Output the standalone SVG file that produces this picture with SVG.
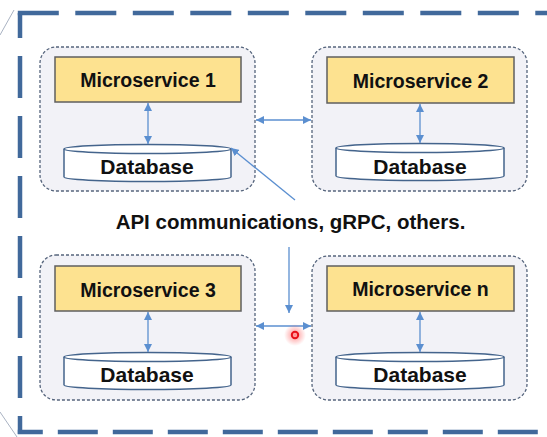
<svg xmlns="http://www.w3.org/2000/svg" width="547" height="437" viewBox="0 0 547 437">
  <style>
    .frame { fill: none; stroke: #41699b; stroke-width: 4.5; stroke-linecap: butt; }
    .edge { fill: none; stroke: #a9b2c2; stroke-width: 1; }
    .svc { fill: #f2f2f7; stroke: #55647c; stroke-width: 1.3; stroke-dasharray: 3 2; }
    .box { fill: #fde290; stroke: #5f5f5f; stroke-width: 1.5; }
    .db { fill: #ffffff; stroke: #44648c; stroke-width: 1.5; }
    .lbl { font-family: "Liberation Sans", Arial, sans-serif; font-weight: bold; fill: #111111; text-anchor: middle; }
    .link { fill: none; stroke: #5b8fd0; stroke-width: 1.3; }
  </style>
  <defs>
    <marker id="head" viewBox="0 0 10 10" refX="10" refY="5" markerWidth="8" markerHeight="8" markerUnits="userSpaceOnUse" orient="auto-start-reverse">
      <path d="M0,0 L10,5 L0,10 Z" fill="#5b8fd0"/>
    </marker>
    <radialGradient id="glow">
      <stop offset="0" stop-color="#ff3030" stop-opacity="0.55"/>
      <stop offset="0.6" stop-color="#ff5050" stop-opacity="0.25"/>
      <stop offset="1" stop-color="#ff6060" stop-opacity="0"/>
    </radialGradient>
  </defs>

  <rect width="547" height="437" fill="#ffffff"/>

  <!-- faint outline strokes at the left corners -->
  <line class="edge" x1="0" y1="35" x2="14" y2="10"/>
  <line class="edge" x1="0" y1="412" x2="17" y2="437"/>

  <!-- outer dashed boundary -->
  <g id="boundary">
    <line class="frame" x1="17.8" y1="13" x2="560" y2="13" stroke-dasharray="41 16.5"/>
    <line class="frame" x1="20" y1="13" x2="20" y2="434" stroke-dasharray="42 18" stroke-dashoffset="17"/>
    <line class="frame" x1="17.8" y1="432" x2="560" y2="432" stroke-dasharray="40 15" stroke-dashoffset="15"/>
  </g>

  <g id="svc1">
    <rect class="svc" x="40" y="47" width="215" height="144" rx="16"/>
    <rect class="box" x="55" y="57" width="186" height="45"/>
    <text class="lbl" x="148" y="87" font-size="19.5">Microservice 1</text>
    <path class="db" d="M64,149 V177 A83.5,4.5 0 0 0 231,177 V149"/>
    <ellipse class="db" cx="147.5" cy="149" rx="83.5" ry="4.5"/>
    <text class="lbl" x="147" y="174" font-size="21">Database</text>
    <line class="link" x1="148" y1="103" x2="148" y2="144" marker-start="url(#head)" marker-end="url(#head)"/>
  </g>

  <g id="svc2">
    <rect class="svc" x="312" y="47" width="215" height="144" rx="16"/>
    <rect class="box" x="327" y="57" width="187" height="46"/>
    <text class="lbl" x="420.5" y="88" font-size="19.5">Microservice 2</text>
    <path class="db" d="M336,148 V176 A84,4.5 0 0 0 504,176 V148"/>
    <ellipse class="db" cx="420" cy="148" rx="84" ry="4.5"/>
    <text class="lbl" x="420" y="174" font-size="21">Database</text>
    <line class="link" x1="420" y1="104" x2="420" y2="143" marker-start="url(#head)" marker-end="url(#head)"/>
  </g>

  <g id="svc3">
    <rect class="svc" x="40" y="255" width="215" height="145" rx="16"/>
    <rect class="box" x="55" y="266" width="186" height="45"/>
    <text class="lbl" x="148" y="297" font-size="19.5">Microservice 3</text>
    <path class="db" d="M64,357 V385 A83.5,4.5 0 0 0 231,385 V357"/>
    <ellipse class="db" cx="147.5" cy="357" rx="83.5" ry="4.5"/>
    <text class="lbl" x="147" y="382" font-size="21">Database</text>
    <line class="link" x1="148" y1="312" x2="148" y2="352" marker-start="url(#head)" marker-end="url(#head)"/>
  </g>

  <g id="svcn">
    <rect class="svc" x="312" y="256" width="215" height="144" rx="16"/>
    <rect class="box" x="327" y="266" width="187" height="45"/>
    <text class="lbl" x="420.5" y="296" font-size="19.5">Microservice n</text>
    <path class="db" d="M336,357 V385 A84,4.5 0 0 0 504,385 V357"/>
    <ellipse class="db" cx="420" cy="357" rx="84" ry="4.5"/>
    <text class="lbl" x="420" y="382" font-size="21">Database</text>
    <line class="link" x1="420" y1="312" x2="420" y2="352" marker-start="url(#head)" marker-end="url(#head)"/>
  </g>

  <text id="caption" class="lbl" x="290.5" y="229" font-size="20.5">API communications, gRPC, others.</text>

  <g id="connectors">
    <line class="link" x1="256" y1="120" x2="311" y2="120" marker-start="url(#head)" marker-end="url(#head)"/>
    <line class="link" x1="295" y1="200" x2="231" y2="148" marker-end="url(#head)"/>
    <line class="link" x1="289" y1="247" x2="289" y2="313" marker-end="url(#head)"/>
    <line class="link" x1="256" y1="326" x2="311" y2="326" marker-start="url(#head)" marker-end="url(#head)"/>
  </g>

  <!-- pointer highlight -->
  <g id="pointer">
    <circle cx="295" cy="335" r="11" fill="url(#glow)"/>
    <circle cx="295" cy="335" r="3.2" fill="none" stroke="#e8101a" stroke-width="2"/>
  </g>
</svg>
